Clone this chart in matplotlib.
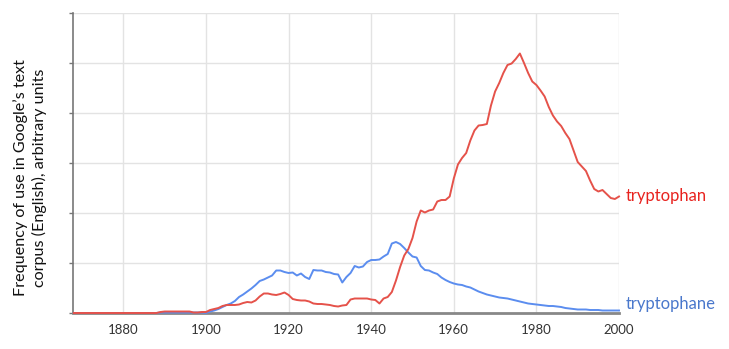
import matplotlib
matplotlib.use("Agg")
import matplotlib.pyplot as plt

years = list(range(1868, 2001))

tryptophan = (
    [0.0] * 21 +  # 1868-1888
    [0.02, 0.03, 0.03, 0.03, 0.03, 0.03, 0.03, 0.03, 0.01, 0.01, 0.02, 0.02] +  # 1889-1900
    [0.06, 0.08, 0.10, 0.14, 0.16, 0.16, 0.16, 0.17, 0.20, 0.22,  # 1901-1910
     0.21, 0.25, 0.33, 0.39, 0.39, 0.37, 0.36, 0.38, 0.41, 0.36,  # 1911-1920
     0.28, 0.26, 0.25, 0.25, 0.23, 0.19, 0.18, 0.18, 0.17, 0.16,  # 1921-1930
     0.14, 0.13, 0.15, 0.16, 0.27, 0.29, 0.29, 0.29, 0.29, 0.27,  # 1931-1940
     0.26, 0.19, 0.29, 0.32, 0.42, 0.65, 0.92, 1.15, 1.28, 1.50,  # 1941-1950
     1.83, 2.05, 2.01, 2.05, 2.07, 2.23, 2.26, 2.26, 2.33, 2.69,  # 1951-1960
     2.97, 3.10, 3.20, 3.45, 3.65, 3.75, 3.76, 3.78, 4.15, 4.43,  # 1961-1970
     4.60, 4.80, 4.96, 4.99, 5.08, 5.19, 5.00, 4.80, 4.63, 4.56,  # 1971-1980
     4.45, 4.33, 4.12, 3.95, 3.83, 3.74, 3.60, 3.48, 3.25, 3.02,  # 1981-1990
     2.93, 2.84, 2.65, 2.48, 2.43, 2.46, 2.38, 2.30, 2.28, 2.33]  # 1991-2000
)

tryptophane = (
    [0.0] * 21 +  # 1868-1888
    [0.01, 0.01, 0.01, 0.01, 0.01, 0.01, 0.01, 0.01, 0.01, 0.01, 0.01, 0.0] +  # 1889-1900
    [0.03, 0.05, 0.08, 0.12, 0.16, 0.19, 0.24, 0.32, 0.37, 0.43,
     0.49, 0.56, 0.64, 0.67, 0.71, 0.75, 0.85, 0.85, 0.82, 0.80,
     0.81, 0.75, 0.79, 0.72, 0.68, 0.86, 0.85, 0.85, 0.82, 0.81,
     0.78, 0.77, 0.61, 0.72, 0.80, 0.94, 0.91, 0.93, 1.02, 1.06,
     1.06, 1.07, 1.13, 1.18, 1.39, 1.42, 1.38, 1.30, 1.21, 1.13,
     1.11, 0.94, 0.86, 0.85, 0.81, 0.78, 0.71, 0.66, 0.62, 0.59,
     0.57, 0.56, 0.53, 0.51, 0.47, 0.43, 0.40, 0.37, 0.35, 0.33,
     0.31, 0.30, 0.29, 0.27, 0.25, 0.23, 0.21, 0.19, 0.18, 0.17,
     0.16, 0.15, 0.14, 0.14, 0.13, 0.12, 0.10, 0.09, 0.08, 0.07,
     0.07, 0.07, 0.06, 0.06, 0.06, 0.05, 0.05, 0.05, 0.05, 0.05]
)

x_ticks = [1880, 1900, 1920, 1940, 1960, 1980, 2000]
y_ticks = [0, 1, 2, 3, 4, 5, 6]

plt.rcParams['font.family'] = ['Lato', 'DejaVu Sans']

fig = plt.figure(figsize=(7.29, 3.49), dpi=100)
ax = fig.add_axes([73 / 729, 36 / 349, (619 - 73) / 729, 300 / 349])

ax.plot(years, tryptophane, color='#5b8def', lw=1.4, solid_joinstyle='round',
        zorder=3, clip_on=False)
ax.plot(years, tryptophan, color='#e5524a', lw=1.4, solid_joinstyle='round',
        zorder=3.1, clip_on=False)

ax.set_xlim(1867.8, 2000)
ax.set_ylim(0, 6)
ax.set_xticks(x_ticks)
ax.set_yticks(y_ticks)
ax.set_yticklabels([])
ax.grid(True, color='#e3e3e3', lw=1)
ax.set_axisbelow(True)

for s in ['top', 'right']:
    ax.spines[s].set_visible(False)
ax.spines['left'].set_color('#777777')
ax.spines['left'].set_linewidth(1.2)
ax.spines['bottom'].set_color('#888888')
ax.spines['bottom'].set_linewidth(2)
ax.tick_params(axis='x', length=0, pad=8, labelsize=9.5, labelcolor='#333333')
ax.tick_params(axis='y', length=3, width=1, color='#777777')

ax.text(1.012, tryptophan[-1] / 6, 'tryptophan', transform=ax.transAxes,
        color='#e8231f', fontsize=12, va='center', ha='left')
ax.text(1.012, 0.03, 'tryptophane', transform=ax.transAxes,
        color='#4a78cc', fontsize=12, va='center', ha='left')

fig.text(30 / 729, 0.49, "Frequency of use in Google\u2019s text\ncorpus (English), arbitrary units",
         rotation=90, ha='center', va='center', fontsize=11.6, color='#111111',
         linespacing=1.3)

fig.savefig('out.png', dpi=100, facecolor='white')
